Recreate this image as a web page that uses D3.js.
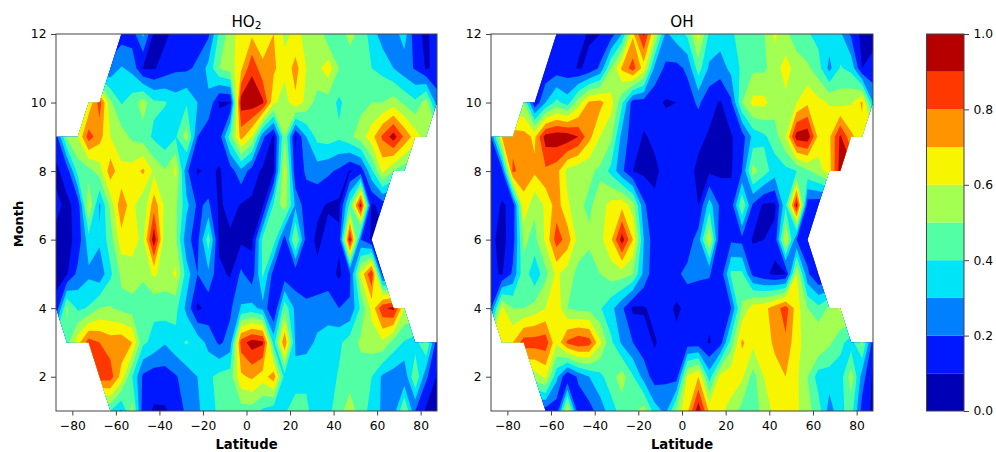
<!DOCTYPE html>
<html>
<head>
<meta charset="utf-8">
<script src="https://cdn.jsdelivr.net/npm/d3@7"></script>
<style>
  body { margin: 0; background: #fff; }
  svg { display: block; }
  text { font-family: "DejaVu Sans", sans-serif; fill: #000; }
</style>
</head>
<body>
<div class="container"></div>
<script>
const _ = null

// grid nodes, 5 degree bins
const latitudes = d3.range(36).map(i => -87.5 + i * 5)
const months = [1, 2, 3, 4, 5, 6, 7, 8, 9, 10, 11, 12]

const levels = [0, 0.1, 0.2, 0.3, 0.4, 0.5, 0.6, 0.7, 0.8, 0.9, 1]
const bandColors = ['#0000b6', '#0018ff', '#0080ff', '#00e4f8', '#53ffa4', '#a4ff53', '#f8f500', '#ff9400', '#ff3800', '#b60000']

const latTicks = [-80, -60, -40, -20, 0, 20, 40, 60, 80]
const monthTicks = [2, 4, 6, 8, 10, 12]
const barTicks = [0, 0.2, 0.4, 0.6, 0.8, 1]

// rows go from month 1 to month 12, null = no data
const ho2 = [
  [_,_,_,_,_,.40,.28,.55,.14,.09,.09,.14,.22,.28,.36,.42,.41,.45, .45,.38,.33,.38,.47,.42,.34,.37,.46,.56,.44,.37,.28,.24,.52,.20,.08,.08],
  [_,_,_,_,.85,.85,.66,.40,.18,.14,.15,.19,.25,.30,.38,.43,.45,.68, .72,.65,.76,.36,.33,.38,.35,.36,.41,.45,.45,.40,.28,.25,.22,.50,.22,.09],
  [_,.46,.66,.85,.80,.75,.77,.70,.42,.37,.31,.37,.41,.36,.27,.18,.24,.85, .95,.92,.36,.80,.28,.26,.32,.35,.38,.45,.52,.55,.58,.46,.39,.35,.52,.14],
  [.12,.52,.38,.41,.50,.51,.47,.45,.40,.42,.45,.43,.27,.08,.13,.14,.18,.31, .33,.27,.09,.47,.27,.23,.25,.25,.20,.21,.42,.63,.88,.93,.60,_,_,_],
  [.08,.09,.23,.28,.23,.38,.52,.57,.53,.62,.55,.62,.35,.20,.28,.12,.09,.22, .14,.42,.15,.13,.13,.12,.12,.15,.08,.18,.62,.90,.15,_,_,_,_,_],
  [.08,.07,.13,.36,.32,.45,.66,.63,.58,.97,.53,.52,.22,.17,.45,.08,.08,.08, .08,.43,.45,.15,.53,.15,.08,.13,.12,.95,.20,.08,_,_,_,_,_,_],
  [.12,.08,.13,.60,.28,.53,.78,.63,.52,.76,.58,.52,.33,.18,.22,.08,.14,.09, .08,.09,.42,.56,.28,.14,.12,.09,.08,.44,.95,.08,.14,_,_,_,_,_],
  [.08,.14,.44,.46,.55,.76,.62,.64,.72,.58,.51,.62,.22,.09,.12,.09,.15,.27, .15,.08,.09,.63,.12,.22,.25,.22,.18,.09,.14,.38,.62,.50,.43,_,_,_],
  [.15,.52,.60,.85,.74,.60,.55,.48,.45,.38,.33,.39,.55,.20,.12,.15,.45,.74, .60,.22,.08,.50,.08,.30,.43,.45,.42,.48,.55,.66,.82,.95,.78,.65,.55,_],
  [_,_,_,.62,.85,.52,.39,.45,.55,.42,.41,.35,.39,.30,.28,.09,.09,.95, .97,.92,.62,.55,.68,.57,.46,.45,.38,.45,.47,.50,.50,.55,.48,.42,.55,.25],
  [_,_,_,_,_,.22,.31,.27,.09,.09,.14,.18,.18,.22,.33,.50,.55,.68, .88,.73,.72,.63,.74,.60,.57,.66,.50,.45,.45,.40,.37,.30,.24,.19,.09,.12],
  [_,_,_,_,_,_,.15,.15,.32,.08,.08,.13,.15,.15,.18,.42,.55,.65, .68,.62,.70,.58,.62,.58,.60,.42,.45,.53,.47,.35,.25,.25,.35,.13,.08,.15]
]

const oh = [
  [_,_,_,_,_,.15,.13,.63,.13,.16,.25,.35,.45,.47,.55,.35,.27,.53, .68,.97,.68,.62,.56,.46,.44,.54,.63,.66,.62,.53,.45,.25,.37,.45,.16,.08],
  [_,_,_,_,.55,.62,.33,.098,.22,.30,.37,.46,.55,.41,.26,.15,.18,.15, .62,.70,.35,.63,.66,.62,.46,.60,.66,.70,.62,.50,.35,.35,.35,.55,.25,.08],
  [_,.60,.70,.85,.85,.86,.62,.82,.88,.85,.62,.42,.28,.20,.14,.09,.14,.13, .14,.14,.09,.15,.45,.72,.63,.65,.72,.78,.63,.56,.60,.52,.43,.35,.53,.15],
  [.20,.62,.50,.50,.54,.60,.67,.50,.47,.47,.41,.33,.22,.08,.09,.13,.14,.08, .13,.12,.13,.15,.20,.52,.65,.67,.75,.85,.65,.50,.43,.52,.62,_,_,_],
  [.12,.09,.22,.47,.32,.47,.62,.55,.47,.45,.50,.55,.55,.50,.27,.13,.15,.18, .23,.22,.21,.12,.42,.42,.17,.12,.08,.09,.60,.22,.09,_,_,_,_,_],
  [.12,.07,.15,.52,.47,.62,.85,.76,.56,.52,.57,.68,.95,.70,.30,.13,.14,.18, .14,.25,.62,.10,.18,.17,.09,.10,.13,.63,.20,.13,_,_,_,_,_,_],
  [.15,.09,.12,.68,.52,.62,.75,.62,.52,.48,.55,.64,.67,.55,.22,.12,.15,.17, .15,.10,.35,.18,.14,.50,.18,.08,.08,.38,.95,.14,.12,_,_,_,_,_],
  [.10,.16,.83,.73,.72,.78,.74,.57,.53,.52,.48,.37,.22,.10,.08,.08,.13,.14, .13,.08,.08,.08,.09,.20,.54,.45,.35,.37,.40,.48,.55,.66,.95,_,_,_],
  [.20,.70,.75,.74,.68,.95,.97,.97,.90,.73,.60,.52,.26,.15,.09,.12,.15,.15, .15,.12,.09,.07,.09,.15,.33,.38,.45,.60,.95,.97,.67,.68,.92,.72,.65,_],
  [_,_,_,.50,.12,.30,.43,.35,.55,.72,.73,.64,.42,.15,.15,.13,.09,.10, .15,.22,.13,.09,.18,.50,.63,.63,.55,.57,.60,.68,.63,.59,.56,.59,.72,.30],
  [_,_,_,_,_,.12,.14,.14,.09,.12,.22,.50,.72,.85,.65,.27,.18,.17, .22,.45,.28,.25,.33,.42,.48,.48,.55,.65,.55,.52,.44,.27,.41,.37,.10,.12],
  [_,_,_,_,_,_,.15,.15,.13,.09,.10,.15,.30,.68,.92,.60,.28,.35, .42,.64,.38,.35,.38,.45,.47,.49,.62,.52,.45,.41,.37,.35,.32,.18,.07,.08]
]

const width = 996
const height = 452
const plotTop = 34
const plotBottom = 411

const svg = d3.select('.container').append('svg')
  .attr('width', width)
  .attr('height', height)

const axisColor = '#444'

const styleAxis = (g) => {
  g.selectAll('.domain').remove()
  g.selectAll('line').attr('stroke', axisColor).attr('stroke-width', 1)
  g.selectAll('text').attr('font-size', 12.3)
}

// holes are filled from the nearest node in the row only so the contours
// stay closed, the clip below cuts them away again
const fillRow = (row) => {
  const idx = row.map((v, i) => v === null ? -1 : i).filter(i => i >= 0)
  return row.map((v, i) => v !== null ? v : row[d3.least(idx, j => Math.abs(j - i))])
}

const drawPanel = (grid, left, right, id, addTitle) => {
  const x = d3.scaleLinear().domain([-87.5, 87.5]).range([left, right])
  const y = d3.scaleLinear().domain([1, 12]).range([plotBottom, plotTop])

  const values = grid.map(fillRow).flat()
  const contours = d3.contours()
    .size([latitudes.length, months.length])
    .thresholds(levels.slice(0, -1))(values)

  // contour coordinates have the grid nodes at i + 0.5
  const path = d3.geoPath(d3.geoTransform({
    point(cx, cy) {
      this.stream.point(x(latitudes[0] + (cx - 0.5) * 5), y(months[0] + (cy - 0.5)))
    }
  }))

  // clip: quads with 4 valid corners, or the triangle if 3 are valid
  const clipPath = d3.path()
  for (let j = 0; j < months.length - 1; j++) {
    for (let i = 0; i < latitudes.length - 1; i++) {
      const corners = [[i, j], [i + 1, j], [i + 1, j + 1], [i, j + 1]]
        .filter(c => grid[c[1]][c[0]] !== null)
      if (corners.length < 3) continue
      corners.forEach((c, k) => {
        const px = x(latitudes[c[0]])
        const py = y(months[c[1]])
        if (k === 0) clipPath.moveTo(px, py)
        else clipPath.lineTo(px, py)
      })
      clipPath.closePath()
    }
  }
  svg.append('clipPath').attr('id', id)
    .append('path').attr('d', clipPath.toString())

  svg.append('g')
    .attr('clip-path', `url(#${id})`)
    .selectAll('path')
    .data(contours)
    .join('path')
    .attr('d', path)
    .attr('fill', (d, i) => bandColors[i])

  svg.append('g')
    .attr('transform', `translate(0, ${plotBottom})`)
    .call(d3.axisBottom(x).tickValues(latTicks).tickSize(4.5).tickPadding(6))
    .call(styleAxis)

  svg.append('g')
    .attr('transform', `translate(${left}, 0)`)
    .call(d3.axisLeft(y).tickValues(monthTicks).tickSize(5).tickPadding(4.5))
    .call(styleAxis)

  svg.append('rect')
    .attr('x', left).attr('y', plotTop)
    .attr('width', right - left).attr('height', plotBottom - plotTop)
    .attr('fill', 'none')
    .attr('stroke', axisColor)
    .attr('stroke-width', 1)

  svg.append('text')
    .attr('x', (left + right) / 2)
    .attr('y', 448.8)
    .attr('text-anchor', 'middle')
    .attr('font-size', 13.2)
    .attr('font-weight', 'bold')
    .text('Latitude')

  addTitle(svg.append('text')
    .attr('x', (left + right) / 2)
    .attr('y', 26.5)
    .attr('text-anchor', 'middle')
    .attr('font-size', 15.2))
}

drawPanel(ho2, 56, 437, 'clip-ho2', t => {
  t.append('tspan').text('HO')
  t.append('tspan').attr('font-size', 10.6).attr('dy', 2.5).text('2')
})
drawPanel(oh, 491, 873, 'clip-oh', t => t.text('OH'))

svg.append('text')
  .attr('transform', 'translate(22.7, 224) rotate(-90)')
  .attr('text-anchor', 'middle')
  .attr('font-size', 13)
  .attr('font-weight', 'bold')
  .text('Month')

// colorbar
const barScale = d3.scaleLinear().domain([0, 1]).range([plotBottom, plotTop])
const barLeft = 926.5
const barRight = 964

svg.append('g')
  .selectAll('rect')
  .data(bandColors)
  .join('rect')
  .attr('x', barLeft)
  .attr('width', barRight - barLeft)
  .attr('y', (d, i) => barScale(levels[i + 1]))
  .attr('height', (d, i) => barScale(levels[i]) - barScale(levels[i + 1]))
  .attr('fill', d => d)

svg.append('g')
  .attr('transform', `translate(${barRight}, 0)`)
  .call(d3.axisRight(barScale).tickValues(barTicks).tickFormat(d3.format('.1f')).tickSize(5).tickPadding(4.5))
  .call(styleAxis)

svg.append('rect')
  .attr('x', barLeft).attr('y', plotTop)
  .attr('width', barRight - barLeft).attr('height', plotBottom - plotTop)
  .attr('fill', 'none')
  .attr('stroke', axisColor)
  .attr('stroke-width', 1)
</script>
</body>
</html>
